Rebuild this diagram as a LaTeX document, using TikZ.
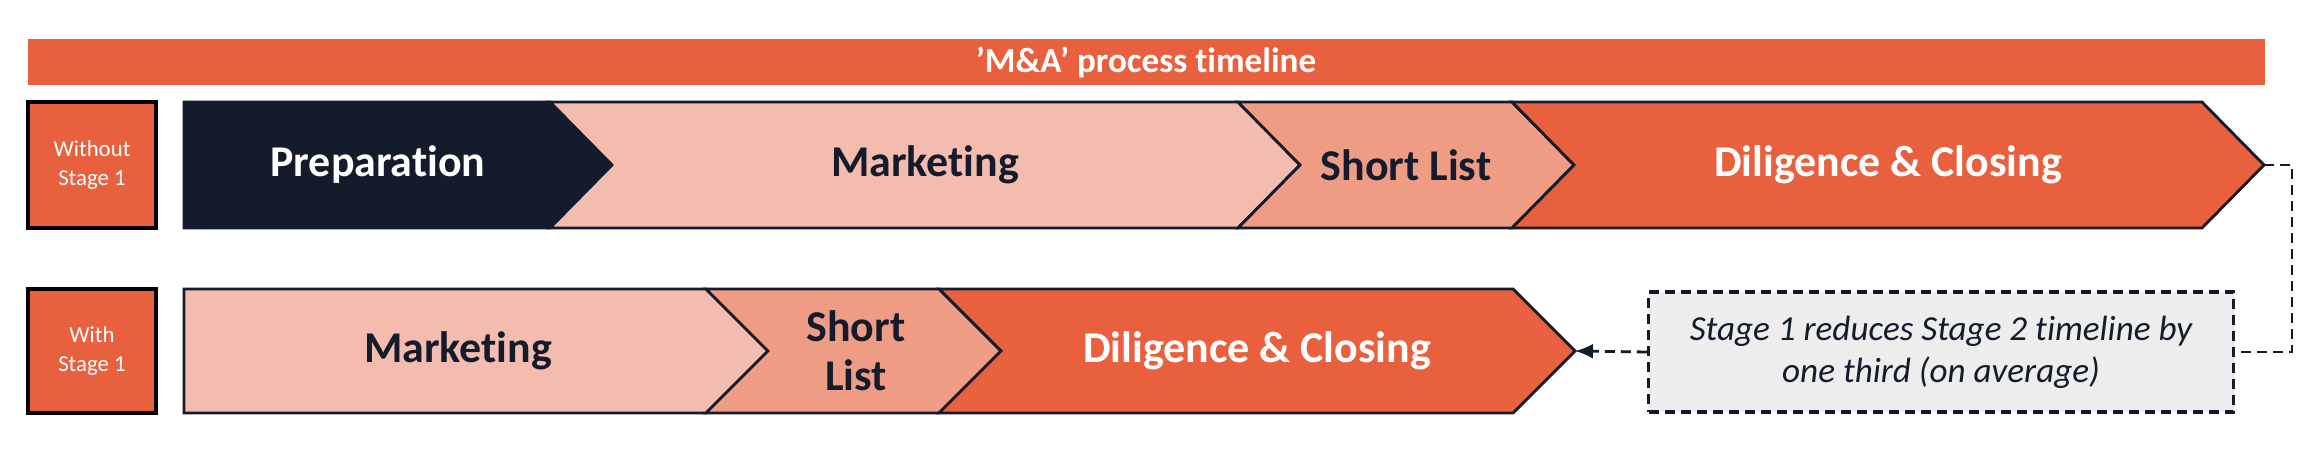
\documentclass[tikz,border=0pt]{standalone}
\usepackage{fontspec}
\setmainfont[Ligatures=NoCommon]{Carlito}
\usetikzlibrary{positioning,arrows.meta}
\definecolor{maorange}{HTML}{E9603E}
\definecolor{manavy}{HTML}{131B2C}
\definecolor{mapink}{HTML}{F4BCAE}
\definecolor{masalmon}{HTML}{EF9C84}
\definecolor{magrey}{HTML}{EDEDED}

\begin{document}
\begin{tikzpicture}[x=0.1mm,y=-0.1mm,
  phase/.style={draw=manavy, line width=0.8pt, line join=miter},
  rowlabel/.style={draw=black, line width=1pt, fill=maorange},
  rowtext/.style={font=\fontsize{6.5}{8}\selectfont, text=white, align=center},
  phasetext/.style={font=\bfseries\fontsize{12.5}{14}\selectfont, align=center},
  link/.style={draw=manavy, line width=0.8pt, dash pattern=on 1mm off 0.6mm}]
\useasboundingbox (0,0) rectangle (2324,459);
% title bar
\fill[maorange] (28,39) rectangle (2265,85);
\node[font=\bfseries\fontsize{10}{12}\selectfont, text=white] (title) at (1146,62) {’M\&A’ process timeline};
% row labels
\draw[rowlabel] (28,102) rectangle (156,228);
\node[rowtext] (without) at (92,165) {Without\\Stage 1};
\draw[rowlabel] (28,289) rectangle (156,413);
\node[rowtext] (with) at (92,351) {With\\Stage 1};
% row 1: without stage 1
\draw[phase, fill=manavy] (184,102) -- (550,102) -- (612,165) -- (550,228) -- (184,228) -- cycle;
\draw[phase, fill=mapink] (550,102) -- (1238,102) -- (1300,165) -- (1238,228) -- (550,228) -- (612,165) -- cycle;
\draw[phase, fill=masalmon] (1238,102) -- (1512,102) -- (1574,165) -- (1512,228) -- (1238,228) -- (1300,165) -- cycle;
\draw[phase, fill=maorange] (1512,102) -- (2202,102) -- (2264,165) -- (2202,228) -- (1512,228) -- (1574,165) -- cycle;
\node[phasetext, text=white] (prep1) at (378,165) {Preparation};
\node[phasetext, text=manavy] (mkt1) at (925,165) {Marketing};
\node[phasetext, text=manavy] (short1) at (1406,165) {Short List};
\node[phasetext, text=white] (dil1) at (1888,165) {Diligence \& Closing};
\coordinate (diltip1) at (2264,165);
% row 2: with stage 1
\draw[phase, fill=mapink] (184,289) -- (706,289) -- (768,351) -- (706,413) -- (184,413) -- cycle;
\draw[phase, fill=masalmon] (706,289) -- (939,289) -- (1001,351) -- (939,413) -- (706,413) -- (768,351) -- cycle;
\draw[phase, fill=maorange] (939,289) -- (1513,289) -- (1575,351) -- (1513,413) -- (939,413) -- (1001,351) -- cycle;
\node[phasetext, text=manavy] (mkt2) at (458,351) {Marketing};
\node[phasetext, text=manavy] (short2) at (856,351) {Short\\List};
\node[phasetext, text=white] (dil2) at (1257,351) {Diligence \& Closing};
\coordinate (diltip2) at (1575,351);
% note and links
\node[draw=manavy, line width=1pt, dash pattern=on 1mm off 0.6mm, fill=magrey,
  minimum width=58.5mm, minimum height=12mm, inner sep=0pt, text=manavy,
  font=\itshape\fontsize{10}{12}\selectfont, align=center] (note) at (1941,352)
  {Stage 1 reduces Stage 2 timeline by\\one third (on average)};
\coordinate (bend) at (2292,165);
\draw[link] (diltip1) -- (bend) |- (note.east);
\draw[link, -{Latex[length=1.8mm,width=1.5mm]}] (note.west) -- (diltip2);
\end{tikzpicture}
\end{document}
